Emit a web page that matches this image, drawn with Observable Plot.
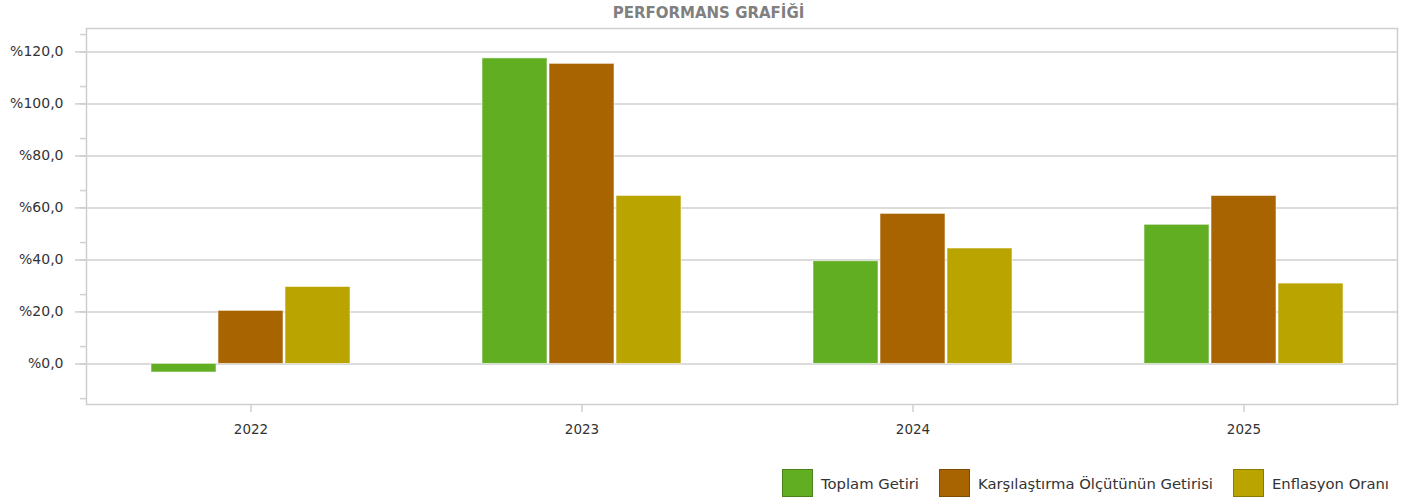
<!DOCTYPE html>
<html><head><meta charset="utf-8">
<script src="https://cdn.jsdelivr.net/npm/d3@7"></script>
<script src="https://cdn.jsdelivr.net/npm/@observablehq/plot@0.6"></script>
<style>
body{margin:0;background:#fff;font-family:"DejaVu Sans",sans-serif;width:1417px;height:502px;overflow:hidden;position:relative;}
#title{position:absolute;left:0;top:0;width:1417px;height:26px;line-height:26px;text-align:center;font-weight:bold;font-size:15px;color:#808080;}
.layer{position:absolute;left:0;top:24px;}
.layer svg{background:transparent !important;}
#legend{position:absolute;left:782px;top:469px;display:flex;align-items:center;font-size:14.8px;color:#333;}
.sw{width:31px;height:28px;box-sizing:border-box;border:1px solid rgba(0,0,0,0.25);margin-right:8px;}
.it{display:flex;align-items:center;margin-right:20px;}
</style></head><body>
<div id="title">PERFORMANS GRAFİĞİ</div>
<div id="grid" class="layer"></div>
<div id="bars" class="layer"></div>
<div id="legend"></div>
<script>
const years = ["2022", "2023", "2024", "2025"];
const seriesNames = ["Toplam Getiri", "Karşılaştırma Ölçütünün Getirisi", "Enflasyon Oranı"];
const toplamGetiri = [-3.3, 117.5, 39.5, 53.5];
const olcutGetirisi = [20.4, 115.4, 57.7, 64.6];
const enflasyonOrani = [29.6, 64.6, 44.4, 30.9];
const colors = ["#62AE23", "#A86400", "#BAA400"];
const yTicks = [0, 20, 40, 60, 80, 100, 120];
const yDomain = [-15.6, 129];

const seriesValues = [toplamGetiri, olcutGetirisi, enflasyonOrani];
const data = years.flatMap((yr, i) => seriesNames.map((s, j) => ({year: yr, series: s, value: seriesValues[j][i]})));
const minorTicks = d3.range(-2, 20).map(k => k * 20 / 3).filter((v, k) => (k + 2) % 3 !== 0 && v > yDomain[0] && v < yDomain[1]);
const fmt = d => "%" + d.toFixed(1).replace(".", ",");
const gridColor = "#cfcfcf";
const common = {
  width: 1417, height: 430,
  marginLeft: 86, marginRight: 20, marginTop: 4, marginBottom: 50,
  style: {fontFamily: "DejaVu Sans, sans-serif", fontSize: "14px", color: "#333", background: "transparent"},
  y: {domain: yDomain, label: null}
};

// Layer 1: frame, grid and y axis
const gridPlot = Plot.plot({
  ...common,
  marks: [
    Plot.ruleY(yTicks, {stroke: gridColor, strokeWidth: 1.5}),
    Plot.frame({stroke: gridColor, strokeWidth: 1.5}),
    Plot.axisY(minorTicks, {tickSize: 6, text: null, stroke: gridColor, strokeWidth: 1.5, label: null}),
    Plot.axisY(yTicks, {tickSize: 11, tickPadding: 12, tickFormat: fmt, stroke: gridColor, strokeWidth: 1.5, fill: "#333", label: null})
  ]
});
document.getElementById("grid").appendChild(gridPlot);

// Layer 2: grouped bars and year axis
const barPlot = Plot.plot({
  ...common,
  style: {...common.style, fontSize: "13.5px"},
  fx: {domain: years, padding: 0, range: [85, 1409], label: null},
  x: {domain: seriesNames, paddingInner: 0.03, paddingOuter: 0.95, axis: null},
  color: {domain: seriesNames, range: colors},
  marks: [
    Plot.axisY({ticks: [], label: null, tickSize: 0, text: null}),
    Plot.axisFx({anchor: "bottom", tickSize: 8, tickPadding: 12, stroke: gridColor, strokeWidth: 1.5, fill: "#333", label: null}),
    Plot.barY(data, {fx: "year", x: "series", y: "value", fill: "series", stroke: "#ffffff", strokeOpacity: 0.55, strokeWidth: 1})
  ]
});
document.getElementById("bars").appendChild(barPlot);

const legend = document.getElementById("legend");
seriesNames.forEach((s, i) => {
  const it = document.createElement("div"); it.className = "it";
  const sw = document.createElement("div"); sw.className = "sw"; sw.style.background = colors[i];
  const tx = document.createElement("span"); tx.textContent = s;
  it.appendChild(sw); it.appendChild(tx); legend.appendChild(it);
});
</script>
</body></html>
